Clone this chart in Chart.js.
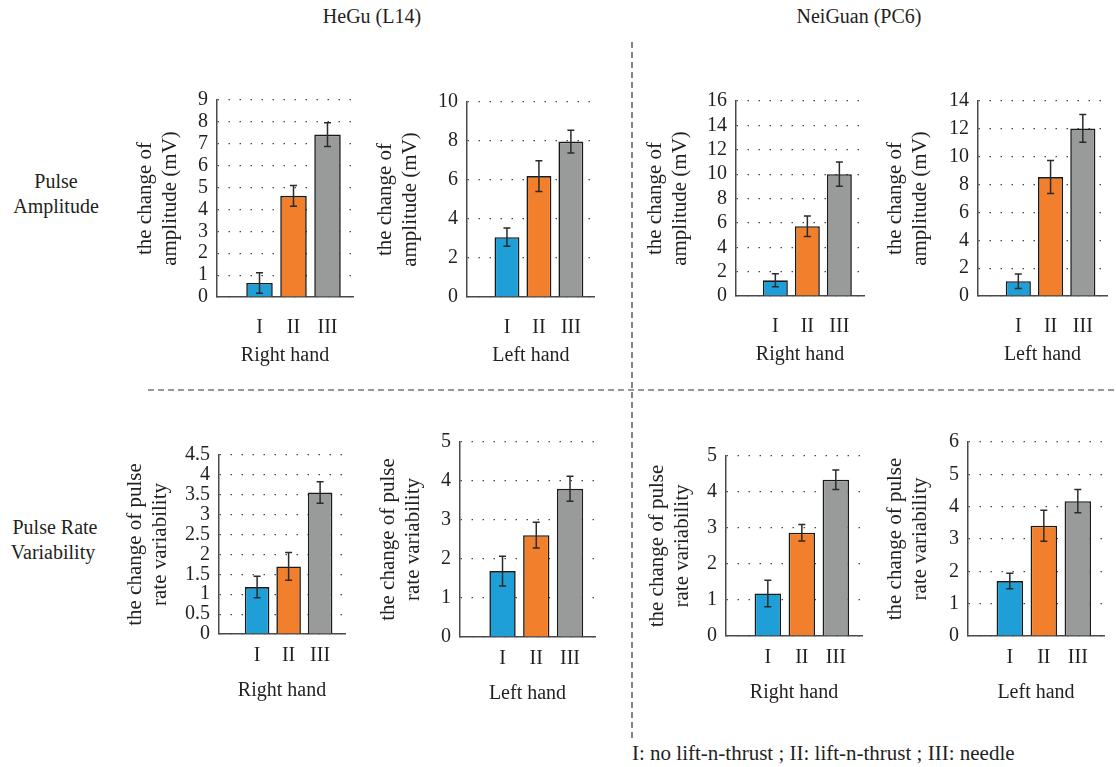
<!DOCTYPE html>
<html>
<head>
<meta charset="utf-8">
<script src="https://cdn.jsdelivr.net/npm/chart.js@4.4.1/dist/chart.umd.min.js"></script>
<style>
  html, body { margin: 0; padding: 0; background: #fff; }
  #page { position: relative; width: 1116px; height: 767px; overflow: hidden;
          font-family: "Liberation Serif", serif; color: #231f20; }
  .lbl { position: absolute; font-size: 20px; white-space: nowrap; transform: translate(-50%, -50%); }
  .left { transform: translate(0, -50%); font-size: 21px; }
  canvas { position: absolute; }
  svg { position: absolute; left: 0; top: 0; pointer-events: none; }
</style>
</head>
<body>
<div id="page">
  <div class="lbl" style="left:372px; top:16px;">HeGu (L14)</div>
  <div class="lbl" style="left:859px; top:16px;">NeiGuan (PC6)</div>
  <div class="lbl" style="left:56px; top:181px;">Pulse</div>
  <div class="lbl" style="left:56px; top:206px;">Amplitude</div>
  <div class="lbl" style="left:55px; top:527px;">Pulse Rate</div>
  <div class="lbl" style="left:53px; top:552px;">Variability</div>
  <div class="lbl left" style="left:632px; top:753px;">I: no lift-n-thrust ; II: lift-n-thrust ; III: needle</div>
  <svg width="1116" height="767">
    <line x1="632" y1="42" x2="632" y2="740" stroke="#333" stroke-width="1.2" stroke-dasharray="6 4"/>
    <line x1="148" y1="390" x2="1116" y2="390" stroke="#333" stroke-width="1.2" stroke-dasharray="6 4"/>
  </svg>
</div>
<script>
// Kategorije i boje stupaca
const categories = ["I", "II", "III"];
const barColors = ["#1e9fd8", "#f27f2b", "#999b9b"];

// Pulse amplitude (mV)
const hegRightAmp = [0.64, 4.62, 7.42];
const hegRightAmpErr = [0.47, 0.47, 0.54];
const hegLeftAmp = [3.07, 6.2, 7.97];
const hegLeftAmpErr = [0.47, 0.79, 0.58];
const ngRightAmp = [1.29, 5.73, 10.0];
const ngRightAmpErr = [0.53, 0.84, 1.0];
const ngLeftAmp = [1.06, 8.54, 12.03];
const ngLeftAmpErr = [0.52, 1.18, 1.0];

// Pulse rate variability
const hegRightPrv = [1.18, 1.7, 3.56];
const hegRightPrvErr = [0.27, 0.35, 0.27];
const hegLeftPrv = [1.69, 2.61, 3.8];
const hegLeftPrvErr = [0.38, 0.33, 0.32];
const ngRightPrv = [1.18, 2.87, 4.34];
const ngRightPrvErr = [0.37, 0.23, 0.27];
const ngLeftPrv = [1.7, 3.41, 4.17];
const ngLeftPrvErr = [0.24, 0.48, 0.36];

// Y osi: maksimum i korak (redom HeGu desno, HeGu lijevo, NeiGuan desno, NeiGuan lijevo)
const ampYMax = [9, 10, 16, 14];
const ampYStep = [1, 2, 2, 2];
const prvYMax = [4.5, 5, 5, 6];
const prvYStep = [0.5, 1, 1, 1];

const ampTitle = ["the change of", "amplitude (mV)"];
const prvTitle = ["the change of pulse", "rate variability"];

const FONT = "Liberation Serif";
const TEXT = "#231f20";
const AXIS = "#4a4a4a";
const W_Y = 100, PAD_TOP = 14, H_X = 72, PAD_RIGHT = 6;

// Raspored panela na stranici
const panels = [
  { values: hegRightAmp, errors: hegRightAmpErr, yMax: ampYMax[0], yStep: ampYStep[0], yTitle: ampTitle, xTitle: "Right hand",
    axisX: 217, topY: 93, zeroY: 297, unit: 34.1, xMin: -0.25, titleDist: 72, row: 0 },
  { values: hegLeftAmp, errors: hegLeftAmpErr, yMax: ampYMax[1], yStep: ampYStep[1], yTitle: ampTitle, xTitle: "Left hand",
    axisX: 467, topY: 95, zeroY: 297, unit: 32, xMin: -0.25, titleDist: 82, row: 0 },
  { values: ngRightAmp, errors: ngRightAmpErr, yMax: ampYMax[2], yStep: ampYStep[2], yTitle: ampTitle, xTitle: "Right hand",
    axisX: 736, topY: 94, zeroY: 296, unit: 32, xMin: -0.23, titleDist: 81, row: 0 },
  { values: ngLeftAmp, errors: ngLeftAmpErr, yMax: ampYMax[3], yStep: ampYStep[3], yTitle: ampTitle, xTitle: "Left hand",
    axisX: 978, topY: 94, zeroY: 296, unit: 32.2, xMin: -0.25, titleDist: 83, row: 0 },
  { values: hegRightPrv, errors: hegRightPrvErr, yMax: prvYMax[0], yStep: prvYStep[0], yTitle: prvTitle, xTitle: "Right hand",
    axisX: 219, topY: 448, zeroY: 634, unit: 31.5, xMin: -0.21, titleDist: 84, row: 1 },
  { values: hegLeftPrv, errors: hegLeftPrvErr, yMax: prvYMax[1], yStep: prvYStep[1], yTitle: prvTitle, xTitle: "Left hand",
    axisX: 460, topY: 435, zeroY: 637, unit: 33.8, xMin: -0.26, titleDist: 72, row: 1 },
  { values: ngRightPrv, errors: ngRightPrvErr, yMax: prvYMax[2], yStep: prvYStep[2], yTitle: prvTitle, xTitle: "Right hand",
    axisX: 726, topY: 449, zeroY: 636, unit: 34, xMin: -0.23, titleDist: 69, row: 1 },
  { values: ngLeftPrv, errors: ngLeftPrvErr, yMax: prvYMax[3], yStep: prvYStep[3], yTitle: prvTitle, xTitle: "Left hand",
    axisX: 968, topY: 435, zeroY: 636, unit: 33.9, xMin: -0.23, titleDist: 73, row: 1 },
];

// Plugin za crtanje error barova preko skale
const errorBars = {
  id: "errorBars",
  afterDatasetsDraw(chart) {
    const ctx = chart.ctx;
    const yScale = chart.scales.y;
    chart.data.datasets.forEach((ds, di) => {
      const meta = chart.getDatasetMeta(di);
      meta.data.forEach((bar, i) => {
        const v = ds.data[i].y, e = ds.errors[i];
        const top = yScale.getPixelForValue(v + e);
        const bot = yScale.getPixelForValue(v - e);
        ctx.save();
        ctx.strokeStyle = "#2b2b2b";
        ctx.lineWidth = 1.5;
        ctx.beginPath();
        ctx.moveTo(bar.x, top); ctx.lineTo(bar.x, bot);
        ctx.moveTo(bar.x - 3.5, top); ctx.lineTo(bar.x + 3.5, top);
        ctx.moveTo(bar.x - 3.5, bot); ctx.lineTo(bar.x + 3.5, bot);
        ctx.stroke();
        ctx.restore();
      });
    });
  }
};

const page = document.getElementById("page");

panels.forEach(function (p) {
  const canvas = document.createElement("canvas");
  const w = Math.round(W_Y + 4 * p.unit + PAD_RIGHT);
  const h = Math.round(PAD_TOP + (p.zeroY - p.topY) + H_X);
  canvas.width = w;
  canvas.height = h;
  canvas.style.left = (p.axisX - W_Y) + "px";
  canvas.style.top = (p.topY - PAD_TOP) + "px";
  page.appendChild(canvas);

  const tickPad = p.row === 0 ? 19 : 10;
  const xTitlePad = p.row === 0 ? 1 : 3;
  const yTitlePad = W_Y - p.titleDist - 12.6;

  new Chart(canvas.getContext("2d"), {
    type: "bar",
    data: {
      datasets: [{
        data: p.values.map((v, i) => ({ x: i + 1, y: v })),
        errors: p.errors,
        backgroundColor: barColors,
        borderColor: "#1a1a1a",
        borderWidth: 1.6,
        barPercentage: 0.78,
        categoryPercentage: 1,
      }]
    },
    options: {
      responsive: false,
      animation: false,
      layout: { padding: { top: PAD_TOP, right: PAD_RIGHT, left: 0, bottom: 0 } },
      plugins: { legend: { display: false }, tooltip: { enabled: false } },
      scales: {
        x: {
          type: "linear",
          offset: false,
          min: p.xMin,
          max: p.xMin + 4,
          afterBuildTicks: function (s) { s.ticks = categories.map((c, i) => ({ value: i + 1 })); },
          afterFit: function (s) { s.height = H_X; },
          ticks: {
            autoSkip: false,
            maxRotation: 0,
            callback: function (value) { return categories[Math.round(value) - 1]; },
            padding: tickPad, color: TEXT, font: { family: FONT, size: 20 },
          },
          grid: { display: false, drawTicks: false, offset: false },
          border: { color: AXIS, width: 1.5 },
          title: { display: true, text: p.xTitle, color: TEXT, padding: { top: 0, bottom: xTitlePad },
                   font: { family: FONT, size: 20, lineHeight: 1.2 } },
        },
        y: {
          min: 0,
          max: p.yMax,
          afterFit: function (s) { s.width = W_Y; },
          ticks: {
            stepSize: p.yStep, autoSkip: false, padding: 9, color: TEXT, font: { family: FONT, size: 20 },
            callback: function (value) { return String(Number(value.toFixed(2))); },
          },
          grid: { color: AXIS, lineWidth: 1.2, drawTicks: false },
          border: { color: AXIS, width: 1.5, dash: [1.5, 9.5] },
          title: { display: true, text: p.yTitle, color: TEXT, padding: { top: yTitlePad, bottom: 0 },
                   font: { family: FONT, size: 21, lineHeight: 1.2 } },
        }
      }
    },
    plugins: [errorBars]
  });
});
</script>
</body>
</html>
